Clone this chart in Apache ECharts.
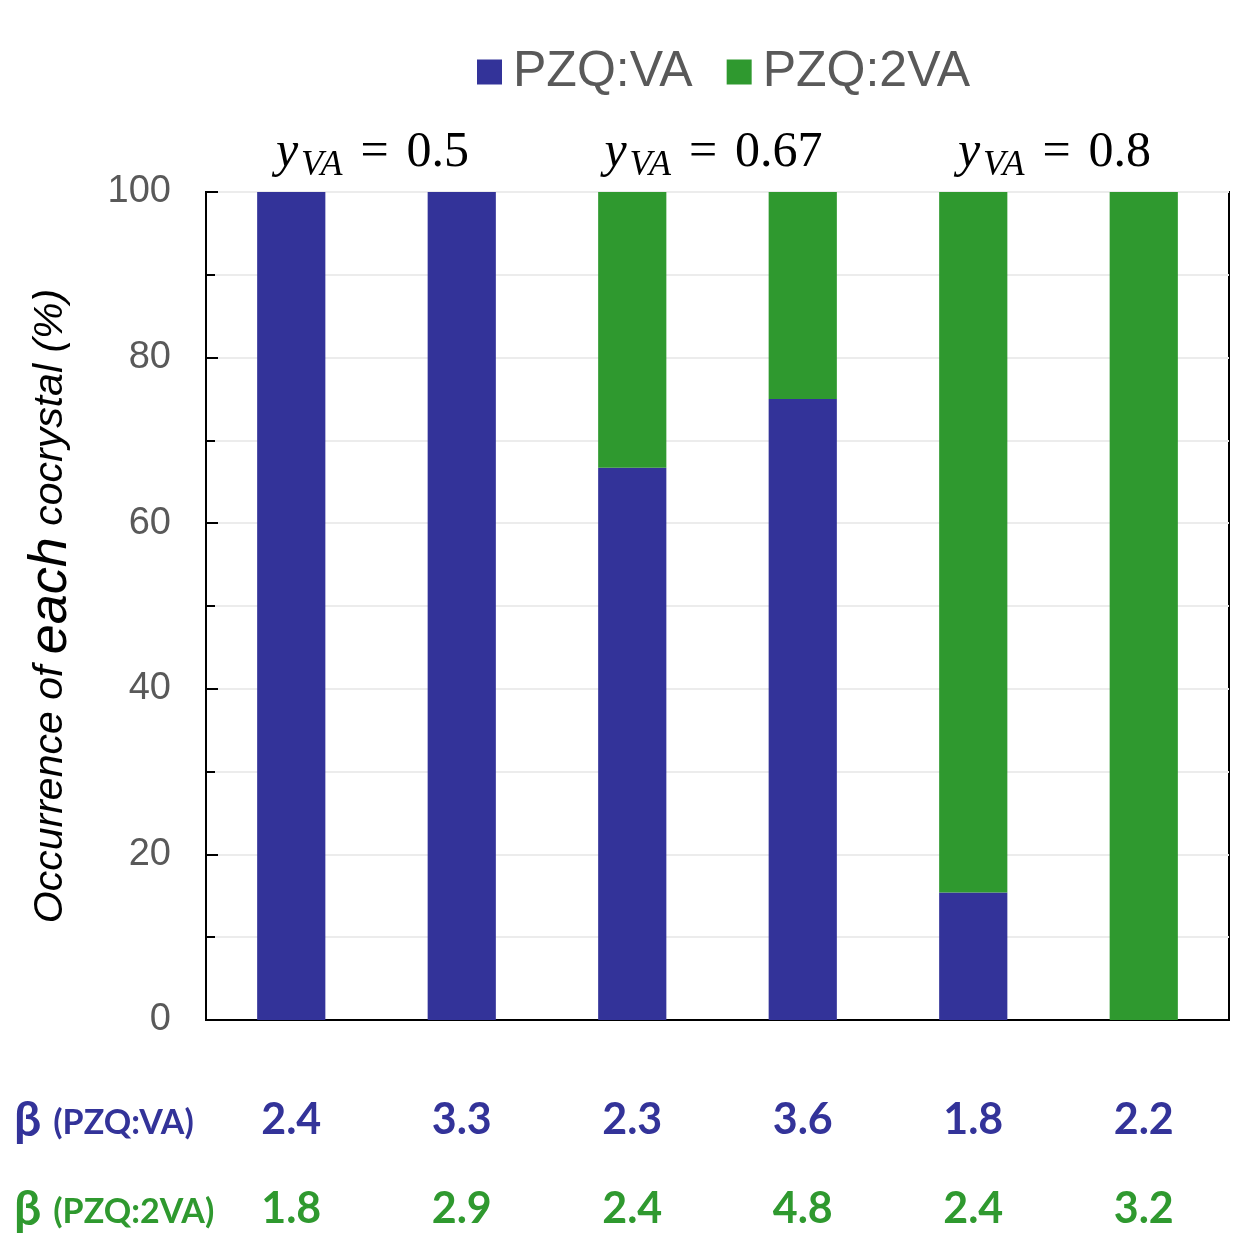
<!DOCTYPE html>
<html>
<head>
<meta charset="utf-8">
<script src="https://cdn.jsdelivr.net/npm/echarts@6/dist/echarts.min.js"></script>
<style>
  html, body { margin: 0; padding: 0; background: #fff; }
  #chart { width: 1234px; height: 1240px; }
</style>
</head>
<body>
<div id="chart"></div>
<script>
// one bar per experiment, grouped in pairs by y_VA
var categories = ['1', '2', '3', '4', '5', '6']
var pzqVA = [100, 100, 66.7, 75, 15.4, 0]
var pzq2VA = [0, 0, 33.3, 25, 84.6, 100]
var betaVA = ['2.4', '3.3', '2.3', '3.6', '1.8', '2.2']
var beta2VA = ['1.8', '2.9', '2.4', '4.8', '2.4', '3.2']
var yvaLabels = ['0.5', '0.67', '0.8']
var yTicks = [0, 20, 40, 60, 80, 100]

var blue = '#333399'
var green = '#2f992f'
var grey = '#595959'

var chart = echarts.init(document.getElementById('chart'))

var option = {
  animation: false,
  backgroundColor: '#fff',
  legend: {
    top: 42,
    left: 472,
    itemWidth: 25,
    itemHeight: 25,
    itemGap: 34,
    icon: 'rect',
    textStyle: { fontFamily: 'Liberation Sans', fontSize: 50, color: grey, padding: [0, 0, 0, 6] },
    data: ['PZQ:VA', 'PZQ:2VA']
  },
  grid: {
    left: 206, right: 5, top: 192, bottom: 220,
    show: true, borderColor: '#000', borderWidth: 2
  },
  xAxis: {
    type: 'category',
    data: categories,
    axisLine: { lineStyle: { color: '#000', width: 2 } },
    axisTick: { show: false },
    axisLabel: {
      margin: 56,
      verticalAlign: 'top',
      formatter: function (v, i) {
        return '{a|' + betaVA[i] + '}\n{b|' + beta2VA[i] + '}'
      },
      rich: {
        a: { fontFamily: 'Lato', fontWeight: 'bold', fontSize: 43, color: blue, lineHeight: 89 },
        b: { fontFamily: 'Lato', fontWeight: 'bold', fontSize: 43, color: green, lineHeight: 89 }
      }
    }
  },
  yAxis: {
    type: 'value',
    min: 0, max: 100, interval: 20,
    name: '{a|Occurrence of }{b|each}{a| cocrystal (%)}',
    nameLocation: 'middle',
    nameGap: 128,
    nameTextStyle: {
      rich: {
        a: { fontFamily: 'Liberation Sans', fontStyle: 'italic', fontSize: 41, color: '#000' },
        b: { fontFamily: 'Liberation Sans', fontStyle: 'italic', fontSize: 54, color: '#000' }
      }
    },
    axisLine: { show: true, lineStyle: { color: '#000', width: 2 } },
    axisTick: { show: true, inside: true, length: 12, lineStyle: { color: '#000', width: 2 } },
    minorTick: { show: true, splitNumber: 2, length: 9, lineStyle: { color: '#000', width: 2 } },
    splitLine: { show: true, lineStyle: { color: '#ececec', width: 2 } },
    minorSplitLine: { show: true, lineStyle: { color: '#ececec', width: 2 } },
    axisLabel: {
      margin: 35,
      fontFamily: 'Liberation Sans',
      fontSize: 38,
      color: grey,
      formatter: function (v) { return yTicks.indexOf(v) >= 0 ? String(v) : '' }
    }
  },
  series: [
    {
      name: 'PZQ:VA', type: 'bar', stack: 'occ', barWidth: '40%',
      itemStyle: { color: blue }, data: pzqVA
    },
    {
      name: 'PZQ:2VA', type: 'bar', stack: 'occ', barWidth: '40%',
      itemStyle: { color: green }, data: pzq2VA
    }
  ]
}

chart.setOption(option)

// y_VA headers over each pair of bars, beta row labels on the left
var graphics = []
yvaLabels.forEach(function (lab, k) {
  var x0 = chart.convertToPixel({ xAxisIndex: 0 }, categories[2 * k])
  var x1 = chart.convertToPixel({ xAxisIndex: 0 }, categories[2 * k + 1])
  graphics.push({
    type: 'text',
    x: (x0 + x1) / 2 - 4,
    y: 153,
    style: {
      text: '{y|y}{s|VA}{e|=}{n|' + lab + '}',
      align: 'center',
      verticalAlign: 'middle',
      rich: {
        y: { fontFamily: 'Liberation Serif', fontStyle: 'italic', fontSize: 50, fill: '#000', lineHeight: 60 },
        s: { fontFamily: 'Liberation Serif', fontStyle: 'italic', fontSize: 36, fill: '#000', lineHeight: 60, padding: [26, 0, 0, 3] },
        e: { fontFamily: 'Liberation Serif', fontSize: 50, fill: '#000', lineHeight: 60, padding: [0, 18, 0, 18] },
        n: { fontFamily: 'Liberation Serif', fontSize: 50, fill: '#000', lineHeight: 60 }
      }
    }
  })
})
var rowLabels = [['(PZQ:VA)', blue, 1121], ['(PZQ:2VA)', green, 1210]]
rowLabels.forEach(function (r) {
  graphics.push({
    type: 'text',
    x: 14,
    y: r[2],
    style: {
      text: '{b|β}{t|' + r[0] + '}',
      verticalAlign: 'middle',
      rich: {
        b: { fontFamily: 'Lato', fontWeight: 'bold', fontSize: 48, fill: r[1] },
        t: { fontFamily: 'Lato', fontWeight: 'bold', fontSize: 34, fill: r[1], padding: [4, 0, 0, 12] }
      }
    }
  })
})
chart.setOption({ graphic: graphics })
</script>
</body>
</html>
